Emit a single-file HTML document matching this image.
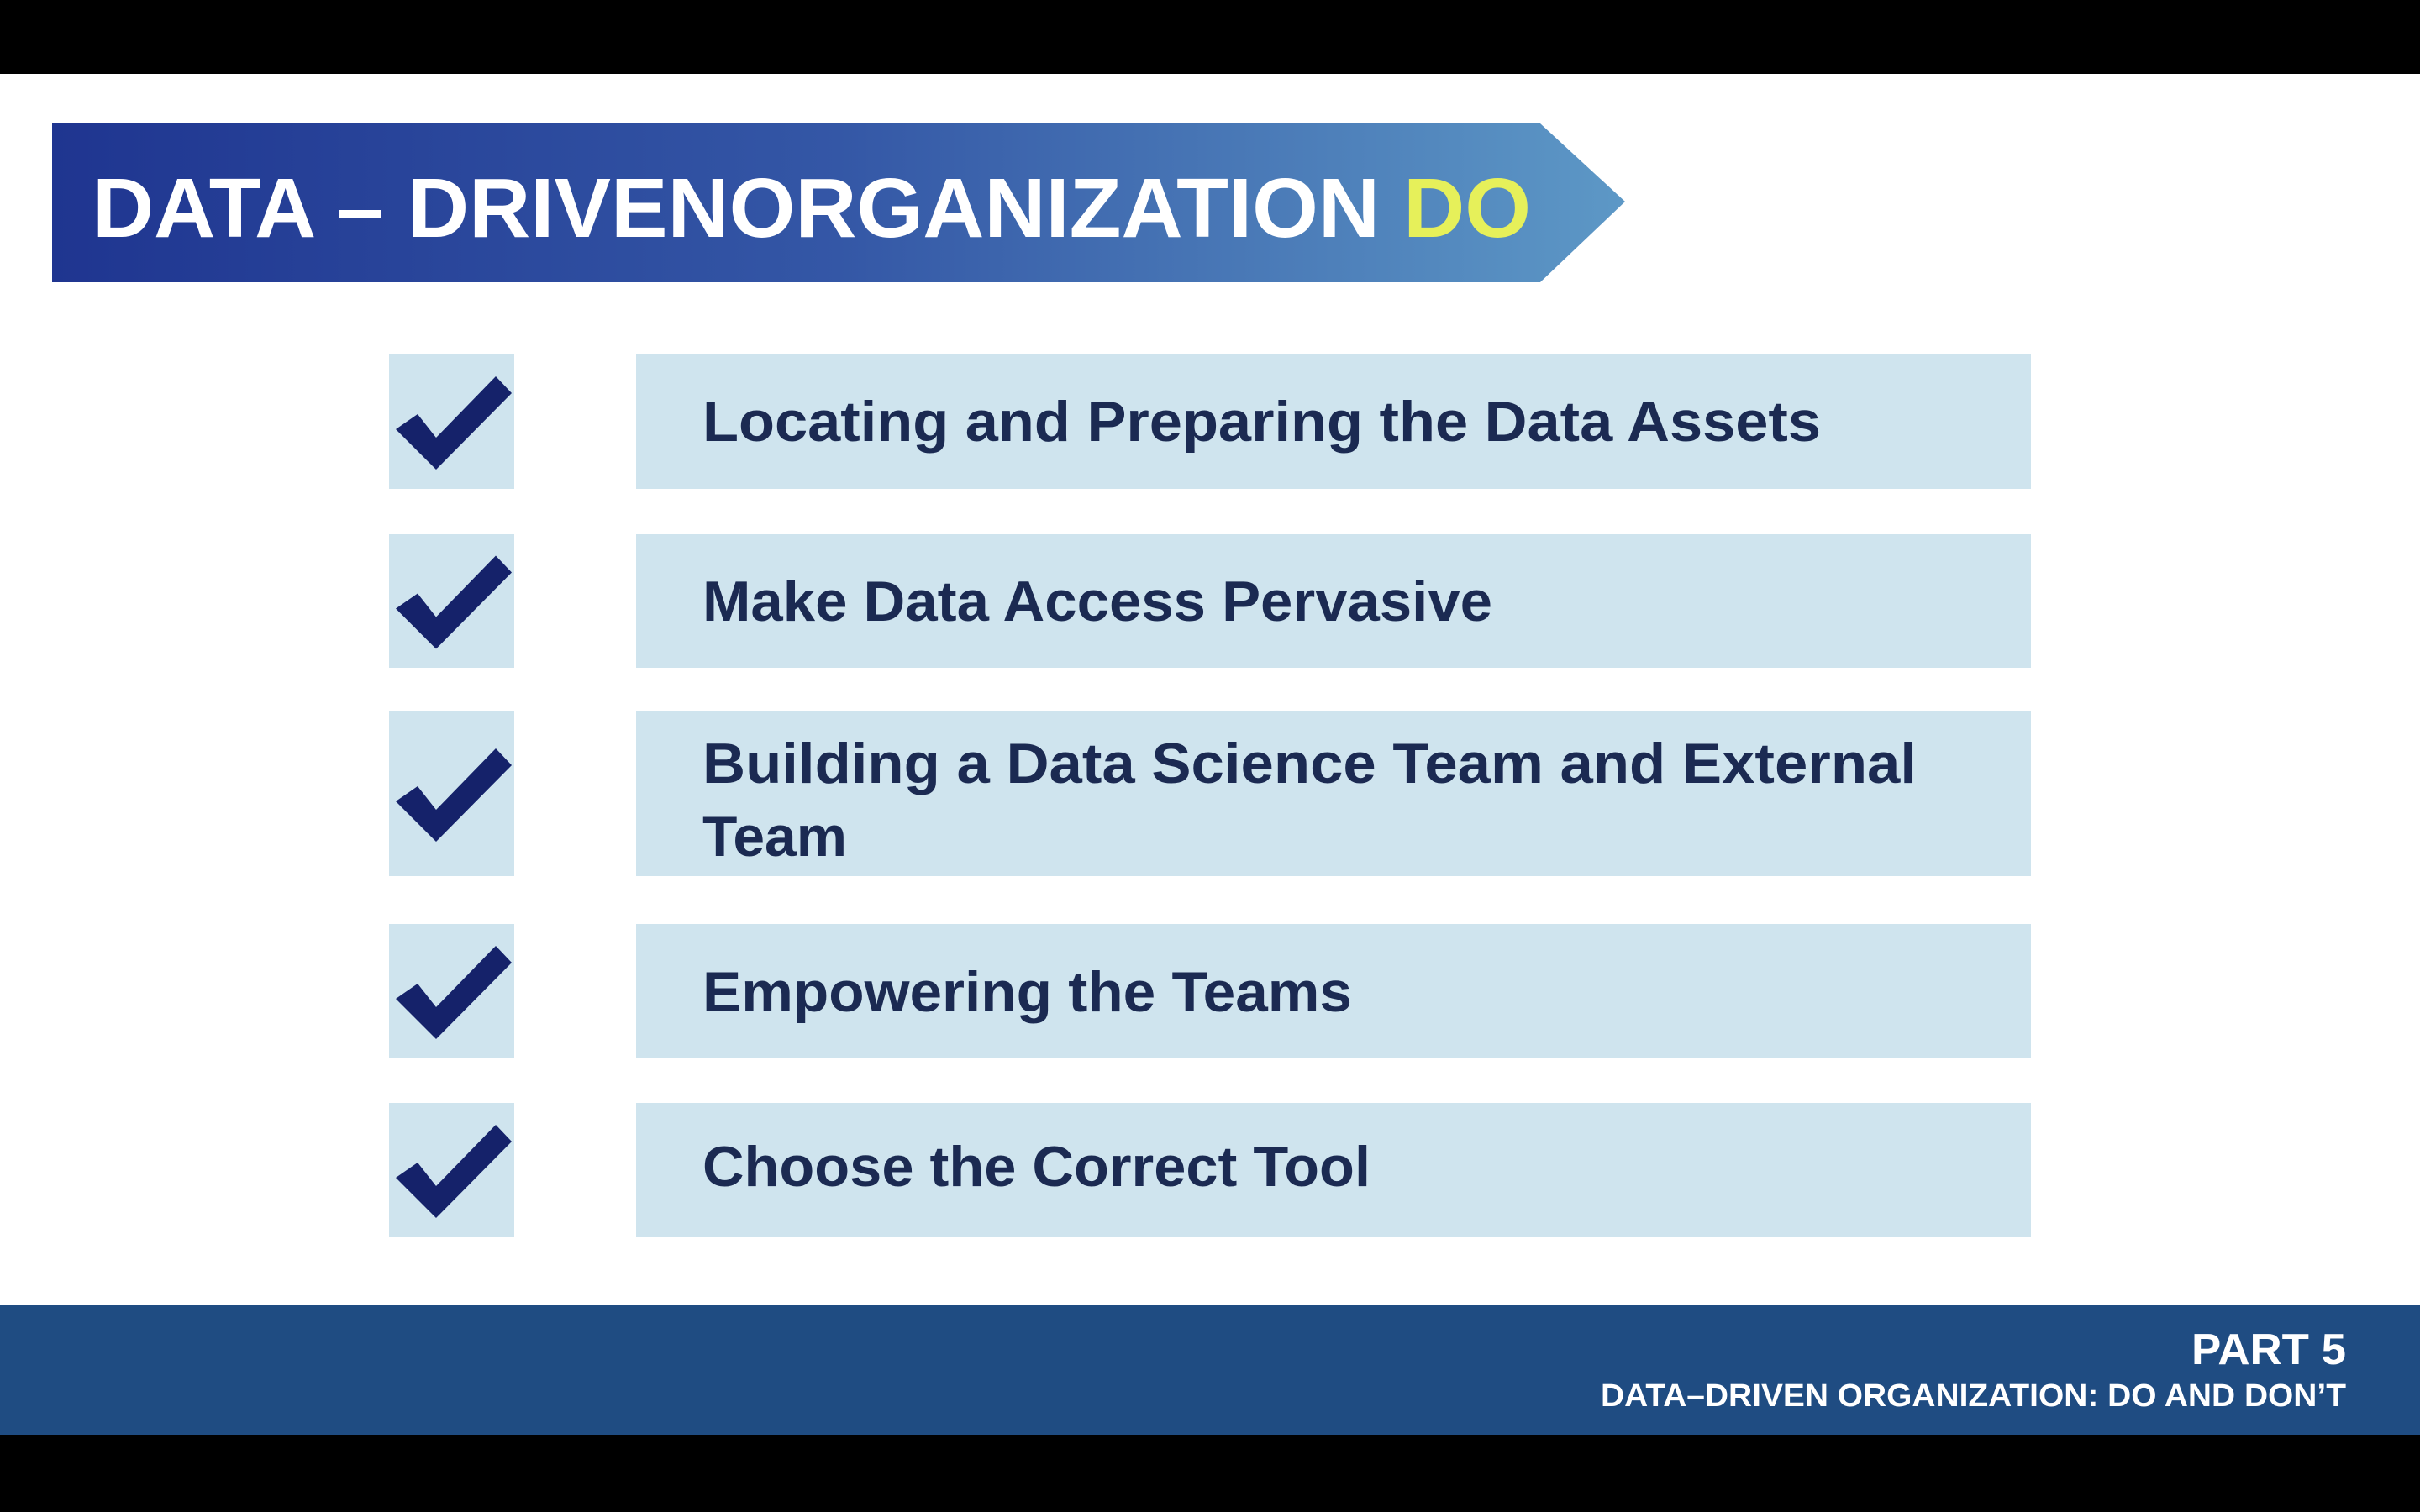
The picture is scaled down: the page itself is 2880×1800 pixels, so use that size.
<!DOCTYPE html>
<html><head><meta charset="utf-8"><style>
html,body{margin:0;padding:0;background:#000;}
svg{display:block;}
text{font-family:"Liberation Sans",sans-serif;font-weight:bold;}
</style></head><body>
<svg width="2880" height="1800" viewBox="0 0 2880 1800">
<defs>
<linearGradient id="bg" x1="0" x2="1" y1="0" y2="0">
<stop offset="0" stop-color="#1f3590"/><stop offset="0.5" stop-color="#3457a6"/><stop offset="1" stop-color="#5d98c6"/>
</linearGradient>
</defs>
<rect x="0" y="0" width="2880" height="88" fill="#000"/>
<rect x="0" y="88" width="2880" height="1466" fill="#ffffff"/>
<polygon points="62,147 1833,147 1934,240 1833,336 62,336" fill="url(#bg)"/>
<text x="110" y="282" font-size="100" fill="#fff" textLength="1712" lengthAdjust="spacingAndGlyphs">DATA – DRIVENORGANIZATION <tspan fill="#e6f05a">DO</tspan></text>

<g id="rows"></g>

<rect x="0" y="1554" width="2880" height="154" fill="#1f4c82"/>
<text x="2792" y="1624" font-size="52" fill="#fff" text-anchor="end" textLength="184" lengthAdjust="spacingAndGlyphs">PART 5</text>
<text x="2792" y="1674" font-size="38" fill="#fff" text-anchor="end" textLength="887" lengthAdjust="spacingAndGlyphs">DATA–DRIVEN ORGANIZATION: DO AND DON’T</text>
<rect x="0" y="1708" width="2880" height="92" fill="#000"/>
</svg>
<script>
const items = [
 {top:422,h:160,lines:[["Locating and Preparing the Data Assets",525,1331]]},
 {top:636,h:159,lines:[["Make Data Access Pervasive",739,940]]},
 {top:847,h:196,lines:[["Building a Data Science Team and External",932,1445],["Team",1019,172]]},
 {top:1100,h:160,lines:[["Empowering the Teams",1204,773]]},
 {top:1313,h:160,lines:[["Choose the Correct Tool",1412,795]]}
];
const NS="http://www.w3.org/2000/svg";
const g=document.getElementById('rows');
items.forEach((it,i)=>{
 const cb=document.createElementNS(NS,'rect');
 cb.setAttribute('x',463);cb.setAttribute('y',it.top);cb.setAttribute('width',149);cb.setAttribute('height',it.h);cb.setAttribute('fill','#cfe4ee');
 
 
 g.appendChild(cb);
 const cy=it.top+(it.h-160)/2;
 const pts=[[8,89],[34,71],[56,99],[127,26],[146,46],[56,137]].map(p=>(463+p[0])+','+(cy+p[1])).join(' ');
 const ck=document.createElementNS(NS,'polygon');
 ck.setAttribute('points',pts);ck.setAttribute('fill','#15226a');
 
 
 g.appendChild(ck);
 const bx=document.createElementNS(NS,'rect');
 bx.setAttribute('x',757);bx.setAttribute('y',it.top);bx.setAttribute('width',1660);bx.setAttribute('height',it.h);bx.setAttribute('fill','#cfe4ee');
 
 
 g.appendChild(bx);
 it.lines.forEach(l=>{
  const t=document.createElementNS(NS,'text');
  t.setAttribute('x',836);t.setAttribute('y',l[1]);t.setAttribute('font-size',68);t.setAttribute('fill','#1b2a52');
  t.setAttribute('textLength',l[2]);t.setAttribute('lengthAdjust','spacingAndGlyphs');
  t.textContent=l[0];
  
  
  g.appendChild(t);
 });
});
</script>
</body></html>
